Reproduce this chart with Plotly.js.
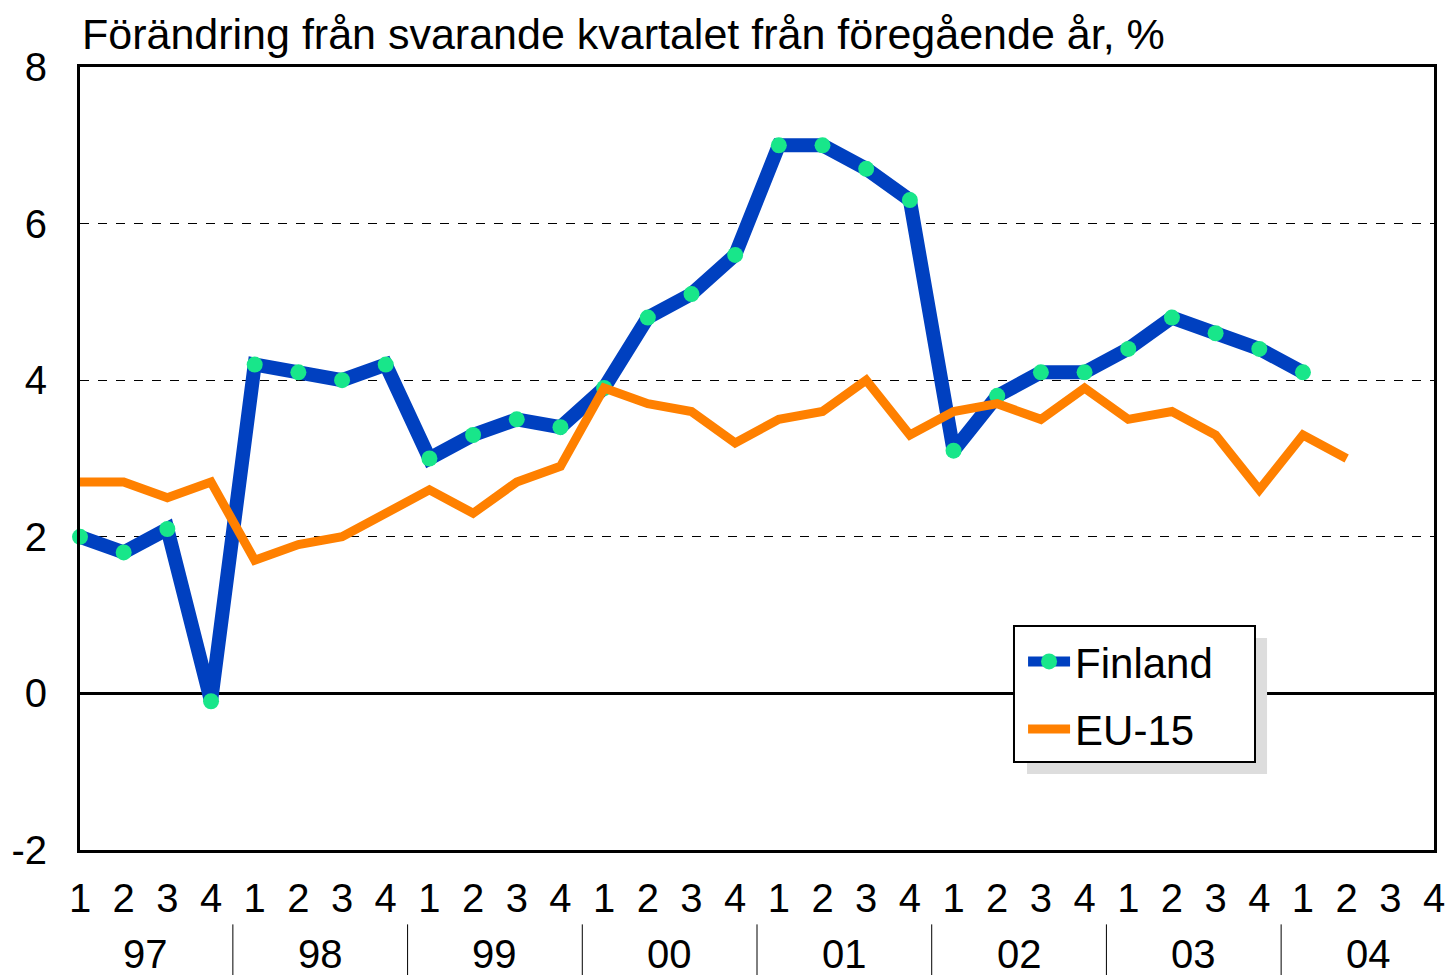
<!DOCTYPE html>
<html>
<head>
<meta charset="utf-8">
<script src="https://cdn.plot.ly/plotly-3.0.1.min.js"></script>
<style>body{margin:0;padding:0;background:#fff;}#chart{width:1448px;height:975px;}</style>
</head>
<body>
<div id="chart"></div>
<script>
const years = ["97","98","99","00","01","02","03","04"];
const quarters = ["1","2","3","4"];
const finland = [2.0,1.8,2.1,-0.1, 4.2,4.1,4.0,4.2, 3.0,3.3,3.5,3.4, 3.9,4.8,5.1,5.6, 7.0,7.0,6.7,6.3, 3.1,3.8,4.1,4.1, 4.4,4.8,4.6,4.4, 4.1];
const eu15 = [2.7,2.7,2.5,2.7, 1.7,1.9,2.0,2.3, 2.6,2.3,2.7,2.9, 3.9,3.7,3.6,3.2, 3.5,3.6,4.0,3.3, 3.6,3.7,3.5,3.9, 3.5,3.6,3.3,2.6, 3.3,3.0];
const yTicks = [-2,0,2,4,6,8];
const yTickText = ["-2","0","2","4","6","8"];
const titleText = "Förändring från svarande kvartalet från föregående år, %";

const nQ = years.length * quarters.length;
const xIdx = [];
const qText = [];
for (let i = 0; i < nQ; i++) { xIdx.push(i); qText.push(quarters[i % 4]); }

const font = "Liberation Sans, Arial, Helvetica, sans-serif";

const traces = [
  {
    x: xIdx.slice(0, finland.length), y: finland, name: "Finland", type: "scatter", mode: "lines+markers",
    line: {color: "#0040C0", width: 14}, marker: {color: "#18E68A", size: 16},
    cliponaxis: false, legendgroup: "a"
  },
  {
    x: xIdx.slice(0, eu15.length), y: eu15, name: "EU-15", type: "scatter", mode: "lines",
    line: {color: "#FF8000", width: 9}, cliponaxis: false, legendgroup: "b"
  }
];

const annotations = years.map((yr, k) => ({
  x: k * 4 + 1.5, xref: "x", y: -0.133, yref: "paper", yanchor: "middle",
  text: yr, showarrow: false, font: {family: font, size: 40, color: "#000"}
}));

const shapes = [];
for (let k = 1; k < years.length; k++) {
  shapes.push({type: "line", xref: "x", yref: "paper", x0: k * 4 - 0.5, x1: k * 4 - 0.5,
    y0: -0.095, y1: -0.16, line: {color: "#000", width: 1}});
}
// legend shadow and box
shapes.push({type: "rect", xref: "paper", yref: "paper", x0: 0.6994, x1: 0.8767, y0: 0.0971, y1: 0.2708,
  fillcolor: "#DDDDDD", line: {width: 0}, layer: "above"});
shapes.push({type: "rect", xref: "paper", yref: "paper", x0: 0.6898, x1: 0.8678, y0: 0.1124, y1: 0.2861,
  fillcolor: "#FFFFFF", line: {color: "#000", width: 2}, layer: "above"});

const layout = {
  width: 1448, height: 975,
  margin: {l: 80, r: 14, t: 67, b: 125},
  paper_bgcolor: "#fff", plot_bgcolor: "rgba(0,0,0,0)",
  font: {family: font, color: "#000", size: 40},
  title: {text: titleText, x: 0, xref: "paper", xanchor: "left", y: 1, yref: "paper", yanchor: "bottom",
    pad: {b: 18, l: 2}, font: {family: font, size: 43, color: "#000"}},
  xaxis: {
    range: [0, nQ - 1], tickmode: "array", tickvals: xIdx, ticktext: qText,
    showgrid: false, zeroline: false, showline: true, mirror: true, linecolor: "#000", linewidth: 3,
    ticks: "", ticklabelstandoff: 11, tickfont: {family: font, size: 40, color: "#000"}, tickangle: 0
  },
  yaxis: {
    range: [-2, 8], tickmode: "array", tickvals: yTicks, ticktext: yTickText,
    showgrid: true, gridcolor: "#000", gridwidth: 1, griddash: "dash",
    zeroline: true, zerolinecolor: "#000", zerolinewidth: 3,
    showline: true, mirror: true, linecolor: "#000", linewidth: 3,
    ticks: "", ticklabelstandoff: 22, tickfont: {family: font, size: 40, color: "#000"}
  },
  showlegend: true,
  legend: {
    x: 0.6965, y: 0.284, xanchor: "left", yanchor: "top", traceorder: "grouped", tracegroupgap: 10,
    bgcolor: "rgba(0,0,0,0)", borderwidth: 0,
    font: {family: font, size: 42, color: "#000"}, itemwidth: 42
  },
  annotations: annotations,
  shapes: shapes
};

Plotly.newPlot("chart", traces, layout, {displayModeBar: false, staticPlot: true});
</script>
</body>
</html>
